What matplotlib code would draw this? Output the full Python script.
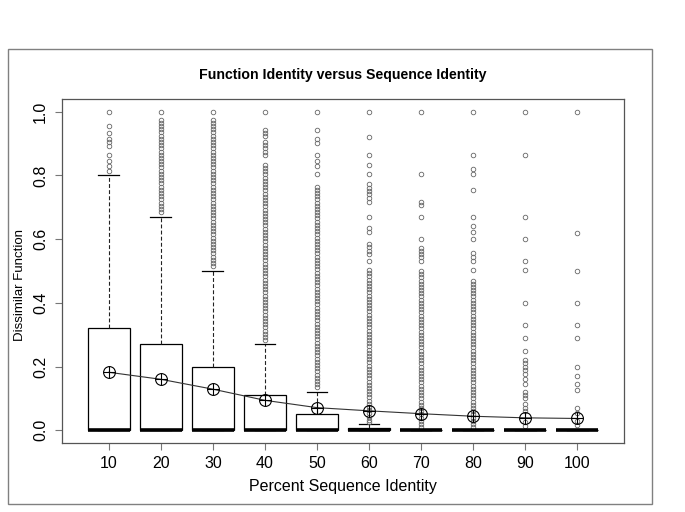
import matplotlib.pyplot as plt
from matplotlib.patches import Rectangle
from matplotlib import font_manager

# values
identity = [10, 20, 30, 40, 50, 60, 70, 80, 90, 100]
q1 = [0, 0, 0, 0, 0, 0, 0, 0, 0, 0]
medians = [0, 0, 0, 0, 0, 0, 0, 0, 0, 0]
q3 = [0.32, 0.27, 0.198, 0.11, 0.05, 0.007, 0, 0, 0, 0]
lower_whisker = [0, 0, 0, 0, 0, 0, 0, 0, 0, 0]
upper_whisker = [0.80, 0.67, 0.50, 0.27, 0.12, 0.02, 0, 0, 0, 0]
means = [0.182, 0.160, 0.129, 0.094, 0.071, 0.061, 0.052, 0.044, 0.039, 0.037]

out10 = [1.0, 0.954, 0.933, 0.914, 0.904, 0.893, 0.863, 0.844, 0.831, 0.814]
out20 = [1.0, 0.975, 0.965, 0.955, 0.945, 0.935, 0.925, 0.915, 0.905, 0.895,
         0.885, 0.875, 0.865, 0.855, 0.845, 0.835, 0.825, 0.815, 0.805, 0.795,
         0.785, 0.775, 0.765, 0.755, 0.745, 0.735, 0.725, 0.715, 0.705, 0.695,
         0.685]
out30 = [1.0, 0.975, 0.965, 0.955, 0.945, 0.935, 0.925, 0.915, 0.905, 0.895,
         0.885, 0.875, 0.865, 0.855, 0.845, 0.835, 0.825, 0.815, 0.805, 0.795,
         0.785, 0.775, 0.765, 0.755, 0.745, 0.735, 0.725, 0.715, 0.705, 0.695,
         0.685, 0.675, 0.665, 0.655, 0.645, 0.635, 0.625, 0.615, 0.605, 0.595,
         0.585, 0.575, 0.565, 0.555, 0.545, 0.535, 0.525, 0.515]
out40 = [1.0, 0.943, 0.933, 0.923, 0.905, 0.895, 0.885, 0.875, 0.865,
         0.833, 0.823, 0.813, 0.803, 0.793, 0.783, 0.773, 0.763, 0.753, 0.743,
         0.733, 0.723, 0.713, 0.703, 0.693, 0.683, 0.673, 0.663, 0.653, 0.643,
         0.633, 0.623, 0.613, 0.603, 0.593, 0.583, 0.573, 0.563, 0.553, 0.543,
         0.533, 0.523, 0.513, 0.503, 0.493, 0.483, 0.473, 0.463, 0.453, 0.443,
         0.433, 0.423, 0.413, 0.403, 0.393, 0.383, 0.373, 0.363, 0.353, 0.343,
         0.333, 0.323, 0.313, 0.303, 0.293, 0.283]
out50 = [1.0, 0.943, 0.914, 0.901, 0.863, 0.844, 0.831, 0.804,
         0.765, 0.755, 0.745, 0.735, 0.725, 0.715, 0.705, 0.695, 0.685, 0.675,
         0.665, 0.655, 0.645, 0.635, 0.625, 0.615, 0.605, 0.595, 0.585, 0.575,
         0.565, 0.555, 0.545, 0.535, 0.525, 0.515, 0.505, 0.495, 0.485, 0.475,
         0.465, 0.455, 0.445, 0.435, 0.425, 0.415, 0.405, 0.395, 0.385, 0.375,
         0.365, 0.355, 0.345, 0.335, 0.325, 0.315, 0.305, 0.295, 0.285, 0.275,
         0.265, 0.255, 0.245, 0.235, 0.225, 0.215, 0.205, 0.195, 0.185, 0.175,
         0.165, 0.155, 0.145, 0.135]
out60 = [1.0, 0.922, 0.863, 0.833, 0.804, 0.773, 0.762, 0.752, 0.741, 0.730,
         0.717, 0.671, 0.634, 0.623, 0.585, 0.574, 0.563, 0.552, 0.530,
         0.503, 0.493, 0.483, 0.473, 0.463, 0.453, 0.443, 0.433, 0.423, 0.413,
         0.403, 0.393, 0.383, 0.373, 0.363, 0.353, 0.343, 0.333, 0.323, 0.313,
         0.303, 0.293, 0.283, 0.273, 0.263, 0.253, 0.243, 0.233, 0.223, 0.213,
         0.203, 0.193, 0.183, 0.173, 0.163, 0.153, 0.143, 0.133, 0.123, 0.113,
         0.103, 0.093, 0.083, 0.073, 0.063, 0.053, 0.043, 0.033, 0.025]
out70 = [1.0, 0.804, 0.717, 0.706, 0.671, 0.600, 0.572, 0.563, 0.554, 0.545,
         0.530, 0.500, 0.490, 0.480, 0.470, 0.460, 0.450, 0.440, 0.430, 0.420,
         0.410, 0.400, 0.390, 0.380, 0.370, 0.360, 0.350, 0.340, 0.330, 0.320,
         0.310, 0.300, 0.290, 0.280, 0.270, 0.260, 0.250, 0.240, 0.230, 0.220,
         0.210, 0.200, 0.190, 0.180, 0.170, 0.160, 0.150, 0.140, 0.130, 0.120,
         0.110, 0.100, 0.090, 0.080, 0.070, 0.060, 0.050, 0.040, 0.030, 0.020,
         0.010]
out80 = [1.0, 0.863, 0.820, 0.804, 0.754, 0.671, 0.642, 0.623, 0.600,
         0.555, 0.545, 0.530, 0.503, 0.470, 0.460, 0.450, 0.440, 0.430, 0.420,
         0.410, 0.400, 0.390, 0.380, 0.370, 0.360, 0.350, 0.340, 0.330, 0.320,
         0.310, 0.300, 0.290, 0.280, 0.270, 0.260, 0.250, 0.240, 0.230, 0.220,
         0.210, 0.200, 0.190, 0.180, 0.170, 0.160, 0.150, 0.140, 0.130, 0.120,
         0.110, 0.100, 0.090, 0.080, 0.070, 0.060, 0.050, 0.040, 0.030, 0.020,
         0.010]
out90 = [1.0, 0.863, 0.671, 0.600, 0.530, 0.503, 0.400, 0.330, 0.290, 0.250,
         0.220, 0.210, 0.200, 0.190, 0.176, 0.160, 0.145, 0.120, 0.110, 0.100,
         0.083, 0.070, 0.060, 0.025, 0.012]
out100 = [1.0, 0.620, 0.500, 0.400, 0.330, 0.290, 0.200, 0.170, 0.145, 0.125,
          0.070, 0.055, 0.030, 0.015]
outliers = [out10, out20, out30, out40, out50, out60, out70, out80, out90, out100]

plt.rcParams['font.family'] = ['Liberation Sans', 'DejaVu Sans']
installed = {f.name for f in font_manager.fontManager.ttflist}
narrow = 'Liberation Sans Narrow' if 'Liberation Sans Narrow' in installed else 'Liberation Sans'

fig = plt.figure(figsize=(6.85, 5.12), dpi=100)
ax = fig.add_axes([62 / 685, 69 / 512, 562 / 685, 344 / 512])

stats = []
for i in range(len(identity)):
    stats.append({'med': medians[i], 'q1': q1[i], 'q3': q3[i],
                  'whislo': lower_whisker[i], 'whishi': upper_whisker[i],
                  'fliers': outliers[i]})

positions = list(range(1, len(identity) + 1))
ax.bxp(stats, positions=positions, widths=0.8, capwidths=0.4, patch_artist=True,
       boxprops={'facecolor': 'white', 'edgecolor': 'black', 'linewidth': 0.9},
       whiskerprops={'linestyle': (0, (3.5, 2)), 'linewidth': 0.8, 'color': '#222222'},
       capprops={'linewidth': 0.9, 'color': 'black'},
       medianprops={'linewidth': 2.6, 'color': 'black', 'solid_capstyle': 'butt'},
       flierprops={'marker': 'o', 'markerfacecolor': 'none', 'markeredgecolor': '#666666',
                   'markersize': 3.3, 'markeredgewidth': 0.6})

# means: circle with cross, joined by a line
ax.plot(positions, means, color='#333333', linewidth=0.8, zorder=4)
ax.plot(positions, means, linestyle='none', marker='o', markersize=8.5,
        markerfacecolor='none', markeredgecolor='black', markeredgewidth=0.8, zorder=5)
ax.plot(positions, means, linestyle='none', marker='+', markersize=8.5,
        markeredgecolor='black', markeredgewidth=0.8, zorder=5)

ax.set_xlim(0.1, 10.9)
ax.set_ylim(-0.04, 1.04)
ax.set_xticks(positions)
ax.set_xticklabels([str(v) for v in identity], fontsize=11.5)
ax.set_yticks([0.0, 0.2, 0.4, 0.6, 0.8, 1.0])
ax.set_yticklabels(['0.0', '0.2', '0.4', '0.6', '0.8', '1.0'], fontsize=11.5,
                   rotation=90, va='center', family=narrow)
ax.tick_params(axis='both', length=5, color='#777777', width=0.8)
ax.tick_params(axis='x', pad=4)
ax.tick_params(axis='y', pad=5)
for spine in ax.spines.values():
    spine.set_color('#555555')
    spine.set_linewidth(0.9)

ax.set_xlabel('Percent Sequence Identity', fontsize=11.5)
ax.xaxis.set_label_coords(0.5, -0.105)
ax.set_ylabel('Dissimilar Function', fontsize=9.5, family=narrow)
ax.yaxis.set_label_coords(-0.064, 0.46)

fig.text(343 / 685, 1 - 75 / 512, 'Function Identity versus Sequence Identity',
         ha='center', va='center', fontsize=10.2, fontweight='bold')

fig.add_artist(Rectangle((8 / 685, 8 / 512), 644 / 685, 455 / 512,
                         transform=fig.transFigure, fill=False,
                         edgecolor='#808080', linewidth=1.0))

fig.savefig('out.png', dpi=100, facecolor='white')
